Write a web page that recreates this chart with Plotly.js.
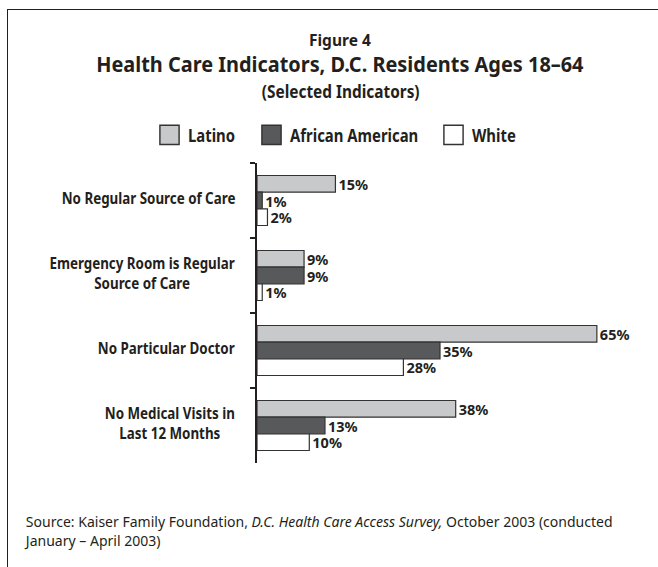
<!DOCTYPE html>
<html>
<head>
<meta charset="utf-8">
<script src="https://cdn.plot.ly/plotly-3.0.1.min.js"></script>
<style>
  html, body { margin: 0; padding: 0; background: #fff; }
  #wrap { position: relative; width: 658px; height: 567px; overflow: hidden; }
  #frame { position: absolute; left: 7px; top: 9px; width: 700px; height: 600px;
           border-left: 1.5px solid #231f20; border-top: 1.5px solid #231f20; pointer-events: none; z-index: 5; }
  #chart { position: absolute; left: 0; top: 0; width: 658px; height: 567px; }
</style>
</head>
<body>
<div id="wrap">
  <div id="chart"></div>
  <div id="frame"></div>
</div>
<script>
const categories = [
  "No Regular Source of Care",
  "Emergency Room is Regular<br>Source of Care",
  "No Particular Doctor",
  "No Medical Visits in<br>Last 12 Months"
];
const seriesNames = ["Latino", "African American", "White"];
const latino = [15, 9, 65, 38];
const africanAmerican = [1, 9, 35, 13];
const white = [2, 1, 28, 10];
const seriesValues = [latino, africanAmerican, white];
const seriesColors = ["#c8c9cb", "#58595b", "#ffffff"];
const sourceText = "Source: Kaiser Family Foundation, <i>D.C. Health Care Access Survey,</i> October 2003 (conducted<br>January – April 2003)";

const FONT = '"Noto Sans", "Open Sans", sans-serif';
const INK = "#231f20";

const W = 658, H = 567;
const M = { l: 257, r: 35, t: 163, b: 104 };
const plotW = W - M.l - M.r, plotH = H - M.t - M.b;
const px2x = x => (x - M.l) / plotW;
const px2y = y => (H - M.b - y) / plotH;
const CX = 340;

const legendKeys = ["legend", "legend2", "legend3"];
const legendX = [148, 250, 432];
const LEG_SQ = 0.85;

const traces = seriesNames.map((name, i) => ({
  type: "bar",
  orientation: "h",
  name: name,
  legend: legendKeys[i],
  y: categories,
  x: seriesValues[i],
  text: seriesValues[i].map(v => v + "%"),
  textposition: "outside",
  constraintext: "none",
  cliponaxis: false,
  textfont: { family: FONT, size: 14.5, color: INK, weight: 700 },
  marker: { color: seriesColors[i], line: { color: "#333333", width: 1.2 } },
  hoverinfo: "skip"
}));

// annotations + horizontal condense factor / origin for each
const annotations = [];
const squeeze = [];
function addAnn(a, k, origin) { annotations.push(a); squeeze.push([k, origin]); }

addAnn({ xref: "paper", yref: "paper", x: px2x(CX), y: px2y(39.5), text: "<b>Figure 4</b>",
  showarrow: false, xanchor: "center", yanchor: "middle", font: { family: FONT, size: 16, color: INK } }, 0.97, "center");
addAnn({ xref: "paper", yref: "paper", x: px2x(CX), y: px2y(64.5), text: "<b>Health Care Indicators, D.C. Residents Ages 18–64</b>",
  showarrow: false, xanchor: "center", yanchor: "middle", font: { family: FONT, size: 20.5, color: INK } }, 0.972, "center");
addAnn({ xref: "paper", yref: "paper", x: px2x(CX), y: px2y(91), text: "<b>(Selected Indicators)</b>",
  showarrow: false, xanchor: "center", yanchor: "middle", font: { family: FONT, size: 17.5, color: INK } }, 0.88, "center");

categories.forEach(c => {
  addAnn({ xref: "paper", yref: "y", x: px2x(237), y: c, text: "<b>" + c + "</b>",
    showarrow: false, xanchor: "right", yanchor: "middle", align: "center", yshift: 3,
    font: { family: FONT, size: 15.2, color: INK } }, 0.88, "right");
});

addAnn({ xref: "paper", yref: "paper", x: px2x(22), y: px2y(508.5), xanchor: "left", yanchor: "top", align: "left",
  showarrow: false, text: sourceText, font: { family: FONT, size: 15, color: INK } }, 0.935, "left");

const layout = {
  width: W, height: H,
  margin: M,
  paper_bgcolor: "#ffffff",
  plot_bgcolor: "#ffffff",
  barmode: "group",
  bargap: 0.333,
  bargroupgap: 0,
  showlegend: true,
  xaxis: {
    range: [0, 70],
    showgrid: false, zeroline: false, showline: false,
    showticklabels: false, ticks: ""
  },
  yaxis: {
    type: "category",
    autorange: "reversed",
    showgrid: false, zeroline: false,
    showline: true, linecolor: "#231f20", linewidth: 1.8,
    ticks: "outside", ticklen: 5, tickwidth: 1.5, tickcolor: "#231f20",
    tickson: "boundaries",
    showticklabels: false
  },
  annotations: annotations
};

legendKeys.forEach((k, i) => {
  layout[k] = {
    orientation: "h",
    xref: "container", yref: "container",
    x: legendX[i] / W, xanchor: "left",
    y: 1 - 135 / H, yanchor: "middle",
    font: { family: FONT, size: 17.5, color: INK, weight: 700 },
    itemwidth: 30,
    bgcolor: "rgba(0,0,0,0)"
  };
});

function condense(el, k, origin) {
  el.style.transformBox = "fill-box";
  el.style.transformOrigin = origin + " center";
  el.style.transform = "scaleX(" + k + ")";
}

function restyleTexts(gd) {
  gd.querySelectorAll(".legendpoints path").forEach(p => {
    p.setAttribute("transform", "translate(21.5,0) scale(1.6)");
    p.style.strokeWidth = "0.9px";
  });
  gd.querySelectorAll("text").forEach(t => {
    if (seriesNames.indexOf(t.textContent.trim()) >= 0) condense(t, LEG_SQ, "left");
  });
  gd.querySelectorAll("g.annotation").forEach(g => {
    const idx = +g.getAttribute("data-index");
    const s = squeeze[idx];
    const t = g.querySelector("text.annotation-text");
    if (s && t) condense(t, s[0], s[1]);
  });
}

Plotly.newPlot("chart", traces, layout, { displayModeBar: false, staticPlot: true }).then(gd => {
  restyleTexts(gd);
  setTimeout(() => restyleTexts(gd), 50);
});
</script>
</body>
</html>
